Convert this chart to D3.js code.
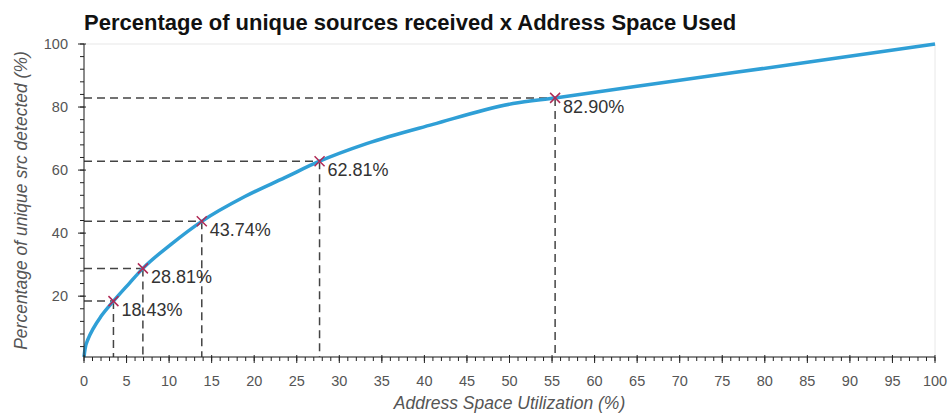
<!DOCTYPE html>
<html>
<head>
<meta charset="utf-8">
<script src="https://cdn.jsdelivr.net/npm/d3@7"></script>
<style>
  body { margin: 0; background: #fff; }
  svg { display: block; font-family: "Liberation Sans", Arial, Helvetica, sans-serif; }
</style>
</head>
<body>
<svg width="949" height="414"></svg>
<script>
// curve: address space used (%) vs unique sources detected (%)
const curveX = [0, 0.12, 0.5, 1.1, 2, 3.46, 5.4, 6.92, 10.3, 13.84, 18.9, 23.6, 27.68, 33.2, 41, 50.4, 55.36, 70, 85, 100];
const curveY = [0.7, 3.2, 6.5, 9.8, 13.6, 18.43, 24.3, 28.81, 36.6, 43.74, 51.6, 57.6, 62.81, 68.4, 74.5, 81.1, 82.9, 88.5, 94.2, 100];

// highlighted points
const markX = [3.46, 6.92, 13.84, 27.68, 55.36];
const markY = [18.43, 28.81, 43.74, 62.81, 82.90];
const markLabels = ["18.43%", "28.81%", "43.74%", "62.81%", "82.90%"];

const xTicks = d3.range(0, 101, 5);
const yTicks = [20, 40, 60, 80, 100];

const margin = { top: 44, right: 14, bottom: 57, left: 84 };
const width = 949, height = 414;

const svg = d3.select("svg");

const x = d3.scaleLinear().domain([0, 100]).range([margin.left, width - margin.right]);
const y = d3.scaleLinear().domain([0.7, 100]).range([height - margin.bottom, margin.top]);

// frame
svg.append("rect")
    .attr("x", margin.left)
    .attr("y", margin.top)
    .attr("width", x(100) - x(0))
    .attr("height", y(0.7) - y(100))
    .attr("fill", "none")
    .attr("stroke", "#e8e8e8")
    .attr("stroke-width", 1);

// title
svg.append("text")
    .attr("x", margin.left)
    .attr("y", 30)
    .attr("font-size", 22)
    .attr("font-weight", "bold")
    .attr("fill", "#111")
    .text("Percentage of unique sources received x Address Space Used");

// guide lines
const pts = markX.map((d, i) => ({ x: d, y: markY[i], label: markLabels[i] }));

svg.selectAll(".hguide")
    .data(pts)
    .enter().append("line")
    .attr("class", "hguide")
    .attr("x1", x(0))
    .attr("x2", d => x(d.x))
    .attr("y1", d => y(d.y))
    .attr("y2", d => y(d.y))
    .attr("stroke", "#444")
    .attr("stroke-width", 1.5)
    .attr("stroke-dasharray", "8,5");

svg.selectAll(".vguide")
    .data(pts)
    .enter().append("line")
    .attr("class", "vguide")
    .attr("x1", d => x(d.x))
    .attr("x2", d => x(d.x))
    .attr("y1", d => y(d.y))
    .attr("y2", y(0.7))
    .attr("stroke", "#444")
    .attr("stroke-width", 1.5)
    .attr("stroke-dasharray", "8,5");

// curve
const line = d3.line()
    .x(d => x(d[0]))
    .y(d => y(d[1]))
    .curve(d3.curveMonotoneX);

svg.append("path")
    .datum(curveX.map((d, i) => [d, curveY[i]]))
    .attr("d", line)
    .attr("fill", "none")
    .attr("stroke", "#2f9fd6")
    .attr("stroke-width", 3.5);

// x markers
const mk = svg.selectAll(".mark")
    .data(pts)
    .enter().append("g")
    .attr("class", "mark")
    .attr("transform", d => `translate(${x(d.x)},${y(d.y)})`);

mk.append("path")
    .attr("d", "M-5,-5L5,5M-5,5L5,-5")
    .attr("stroke", "#b02a55")
    .attr("stroke-width", 1.5);

mk.append("text")
    .attr("x", 8)
    .attr("y", 15)
    .attr("font-size", 18)
    .attr("fill", "#333")
    .text(d => d.label);

// x axis
const xAxis = svg.append("g").attr("transform", `translate(0,${y(0.7)})`);
xAxis.append("line")
    .attr("x1", x(0)).attr("x2", x(100))
    .attr("stroke", "#222");
xAxis.selectAll(".minor")
    .data(d3.range(0, 101, 1))
    .enter().append("line")
    .attr("x1", d => x(d)).attr("x2", d => x(d))
    .attr("y1", 0).attr("y2", 4)
    .attr("stroke", "#222");
xAxis.selectAll(".major")
    .data(xTicks)
    .enter().append("line")
    .attr("x1", d => x(d)).attr("x2", d => x(d))
    .attr("y1", -2).attr("y2", 6)
    .attr("stroke", "#222");
xAxis.selectAll(".lbl")
    .data(xTicks)
    .enter().append("text")
    .attr("x", d => x(d))
    .attr("y", 29)
    .attr("text-anchor", "middle")
    .attr("font-size", 14.5)
    .attr("fill", "#555")
    .text(d => d);

// y axis
const yAxis = svg.append("g").attr("transform", `translate(${x(0)},0)`);
yAxis.append("line")
    .attr("y1", y(0.7)).attr("y2", y(100))
    .attr("stroke", "#222");
yAxis.selectAll(".minor")
    .data(d3.range(4, 101, 4))
    .enter().append("line")
    .attr("y1", d => y(d)).attr("y2", d => y(d))
    .attr("x1", 0).attr("x2", -4)
    .attr("stroke", "#222");
yAxis.selectAll(".major")
    .data(yTicks)
    .enter().append("line")
    .attr("y1", d => y(d)).attr("y2", d => y(d))
    .attr("x1", 2).attr("x2", -6)
    .attr("stroke", "#222");
yAxis.selectAll(".lbl")
    .data(yTicks)
    .enter().append("text")
    .attr("x", -16)
    .attr("y", d => y(d))
    .attr("dy", "0.35em")
    .attr("text-anchor", "end")
    .attr("font-size", 14.5)
    .attr("fill", "#555")
    .text(d => d);

// axis titles
svg.append("text")
    .attr("x", (x(0) + x(100)) / 2)
    .attr("y", 409)
    .attr("text-anchor", "middle")
    .attr("font-size", 17.5)
    .attr("font-style", "italic")
    .attr("fill", "#555")
    .text("Address Space Utilization (%)");

svg.append("text")
    .attr("transform", `translate(27,${(y(0.7) + y(100)) / 2}) rotate(-90)`)
    .attr("text-anchor", "middle")
    .attr("font-size", 17.5)
    .attr("font-style", "italic")
    .attr("fill", "#555")
    .text("Percentage of unique src detected (%)");
</script>
</body>
</html>
